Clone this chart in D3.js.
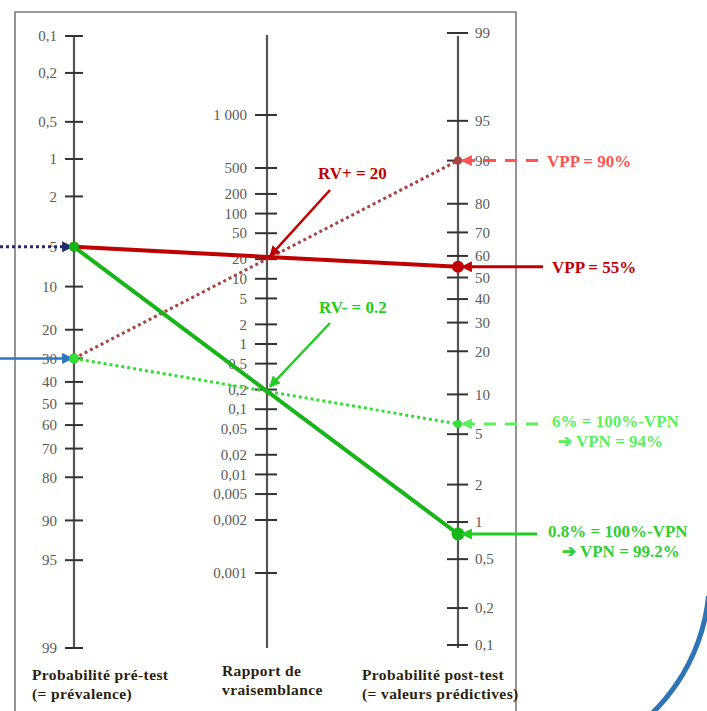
<!DOCTYPE html>
<html><head><meta charset="utf-8">
<script src="https://cdn.jsdelivr.net/npm/d3@7"></script>
<style>
html,body{margin:0;padding:0;background:#fff;}
svg{display:block;}
svg text{font-family:"Liberation Serif","DejaVu Serif","Times New Roman",serif;}
</style></head>
<body>
<svg id="chart" width="707" height="711"></svg>
<script>
// ---- data ----
const preTicks  = [0.1,0.2,0.5,1,2,5,10,20,30,40,50,60,70,80,90,95,99];
const lrTicks   = [1000,500,200,100,50,20,10,5,2,1,0.5,0.2,0.1,0.05,0.02,0.01,0.005,0.002,0.001];
const postTicks = [99,95,90,80,70,60,50,40,30,20,10,5,2,1,0.5,0.2,0.1];

const lineNames = ["rvPos5","rvPos30","rvNeg5","rvNeg30"];
const preProb   = [5, 30, 5, 30];
const likelihoodRatio = [20, 20, 0.2, 0.2];
const postProb  = [55, 90, 0.8, 6];

const axisTitles = [
  ["Probabilité pré-test","(= prévalence)"],
  ["Rapport de","vraisemblance"],
  ["Probabilité post-test","(= valeurs prédictives)"]
];
const resultLabels = [
  ["VPP = 55%"],
  ["VPP = 90%"],
  ["0.8% = 100%-VPN","➔ VPN = 99.2%"],
  ["6% = 100%-VPN","➔ VPN = 94%"]
];
const lrLabels = ["RV+ = 20","RV- = 0.2"];
const lrLabelValues = [20, 0.2];

// ---- styles ----
const SERIF = '"Liberation Serif","DejaVu Serif","Times New Roman",serif';
const styles = {
  rvPos5:  {color:"#c00000", width:4,   dash:null,  r:6,   label:"#c00000", lead:null},
  rvPos30: {color:"#a84444", width:3,   dash:"3,3", r:4,   label:"#ff5252", lead:"12,9"},
  rvNeg5:  {color:"#17b517", width:4,   dash:null,  r:6.5, label:"#33cc33", lead:null},
  rvNeg30: {color:"#33dd33", width:3,   dash:"3,3", r:4,   label:"#5cee5c", lead:"12,9"}
};

const svg = d3.select("#chart");
const logit = p => Math.log(p/(100-p));
const fmt = v => v === 1000 ? "1 000" : String(v).replace(".", ",");

const xL = 74, xM = 267, xR = 458;
const yPre  = d3.scaleLinear().domain([logit(0.1), logit(99)]).range([36, 648]);
const yPost = d3.scaleLinear().domain([logit(99), logit(0.1)]).range([33, 645]);
const yLR   = d3.scaleLog().domain([0.001, 0.002, 500, 1000]).range([573, 520, 168, 115]);

// markers
const defs = svg.append("defs");
function marker(id, color, size){
  defs.append("marker").attr("id", id)
    .attr("viewBox","0 0 10 10").attr("refX",9).attr("refY",5)
    .attr("markerWidth", size).attr("markerHeight", size)
    .attr("markerUnits","userSpaceOnUse").attr("orient","auto")
    .append("path").attr("d","M0,0 L10,5 L0,10 z").attr("fill", color);
}
marker("mNavy","#1f2d6a",11);
marker("mBlue","#2e75c0",11);
marker("mRed","#c00000",11);
marker("mGreen","#22cc22",11);
marker("mLRed","#ff5252",11);
marker("mLGreen","#5cee5c",11);

// frame
svg.append("path").attr("d","M15,720 L15,12 L516,12 L516,720")
  .attr("fill","none").attr("stroke","#7a7a7a").attr("stroke-width",1.6);

// decorative blue arc
const arc = d3.arc()({innerRadius:188, outerRadius:193, startAngle: Math.PI/2 + 0.1, endAngle: Math.PI*0.85});
svg.append("path").attr("d", arc).attr("transform","translate(519,577)").attr("fill","#2e75b6");

// axes
const axColor = "#555", tickColor = "#333", labColor = "#5a5a5a";
function drawAxis(x, scale, ticks, half, side, labelGap, top, bottom){
  svg.append("line").attr("x1",x).attr("x2",x).attr("y1",top).attr("y2",bottom)
    .attr("stroke",axColor).attr("stroke-width",2.2);
  const g = svg.append("g");
  g.selectAll("line.t").data(ticks).enter().append("line")
    .attr("x1", x-half[0]).attr("x2", x+half[1])
    .attr("y1", d=>scale(d)).attr("y2", d=>scale(d))
    .attr("stroke",tickColor).attr("stroke-width",2);
  g.selectAll("text").data(ticks).enter().append("text")
    .attr("x", side<0 ? x-labelGap : x+labelGap)
    .attr("y", d=>scale(d)).attr("dy","0.35em")
    .attr("text-anchor", side<0 ? "end" : "start")
    .attr("font-family", SERIF)
    .attr("font-size", 15).attr("fill", labColor)
    .text(fmt);
}
drawAxis(xL, d=>yPre(logit(d)), preTicks, [9,9], -1, 17, 36, 648);
drawAxis(xM, yLR, lrTicks, [12,10], -1, 20, 35, 648);
drawAxis(xR, d=>yPost(logit(d)), postTicks, [11,10], 1, 17, 36, 648);

// axis titles
const titleX = [32, 222, 362];
const titleY = [[680,699],[676,695],[680,699]];
axisTitles.forEach((lines,i)=>{
  lines.forEach((t,j)=>{
    svg.append("text").attr("x",titleX[i]).attr("y",titleY[i][j])
      .attr("font-family", SERIF)
      .attr("font-size",15.5).attr("font-weight","bold").attr("fill","#2a1f0f")
      .attr("letter-spacing", 0.4)
      .text(t);
  });
});

// incoming arrows on the left
svg.append("line").attr("x1",0).attr("x2",xL-2).attr("y1",yPre(logit(preProb[0]))).attr("y2",yPre(logit(preProb[0])))
  .attr("stroke","#1f2d6a").attr("stroke-width",3).attr("stroke-dasharray","3,3").attr("marker-end","url(#mNavy)");
svg.append("line").attr("x1",0).attr("x2",xL-2).attr("y1",yPre(logit(preProb[1]))).attr("y2",yPre(logit(preProb[1])))
  .attr("stroke","#2e75c0").attr("stroke-width",2.5).attr("marker-end","url(#mBlue)");

// nomogram lines (dotted first, then solid)
const order = [1,3,0,2];
order.forEach(i=>{
  const s = styles[lineNames[i]];
  svg.append("line")
    .attr("x1",xL).attr("y1",yPre(logit(preProb[i])))
    .attr("x2",xR).attr("y2",yPost(logit(postProb[i])))
    .attr("stroke",s.color).attr("stroke-width",s.width)
    .attr("stroke-dasharray",s.dash);
});
// dots
order.forEach(i=>{
  const s = styles[lineNames[i]];
  svg.append("circle").attr("cx",xL).attr("cy",yPre(logit(preProb[i]))).attr("r",5)
    .attr("fill",s.color);
  svg.append("circle").attr("cx",xR).attr("cy",yPost(logit(postProb[i]))).attr("r",s.r)
    .attr("fill",s.color);
});

// LR annotations
const lrTextPos = [[318,179],[319,313]];
const lrStart = [[330,190],[330,323]];
const lrColors = ["#c00000","#22cc22"];
const lrMarkers = ["mRed","mGreen"];
lrLabels.forEach((t,i)=>{
  svg.append("text").attr("x",lrTextPos[i][0]).attr("y",lrTextPos[i][1])
    .attr("font-family", SERIF)
    .attr("font-size",17).attr("font-weight","bold").attr("fill",lrColors[i]).text(t);
  svg.append("line").attr("x1",lrStart[i][0]).attr("y1",lrStart[i][1])
    .attr("x2",xM+3).attr("y2",yLR(lrLabelValues[i])-3)
    .attr("stroke",lrColors[i]).attr("stroke-width",2.5).attr("marker-end","url(#"+lrMarkers[i]+")");
});

// result annotations on the right
const leadStart = [543, 538, 537, 538];
const textX = [[552],[547],[548,562],[552,558]];
const leadMarker = ["mRed","mLRed","mGreen","mLGreen"];
const leadColor = ["#c00000","#ff5252","#22cc22","#5cee5c"];
resultLabels.forEach((lines,i)=>{
  const s = styles[lineNames[i]];
  const y = yPost(logit(postProb[i]));
  svg.append("line").attr("x1",leadStart[i]).attr("x2",xR+4).attr("y1",y).attr("y2",y)
    .attr("stroke",leadColor[i]).attr("stroke-width",3)
    .attr("stroke-dasharray", s.lead).attr("marker-end","url(#"+leadMarker[i]+")");
  lines.forEach((t,j)=>{
    svg.append("text").attr("x",textX[i][j]).attr("y", y + 6 + j*20 - (lines.length>1?3:0))
      .attr("font-family", SERIF)
      .attr("font-size",17).attr("font-weight","bold").attr("fill",s.label).text(t);
  });
});
</script>
</body></html>
